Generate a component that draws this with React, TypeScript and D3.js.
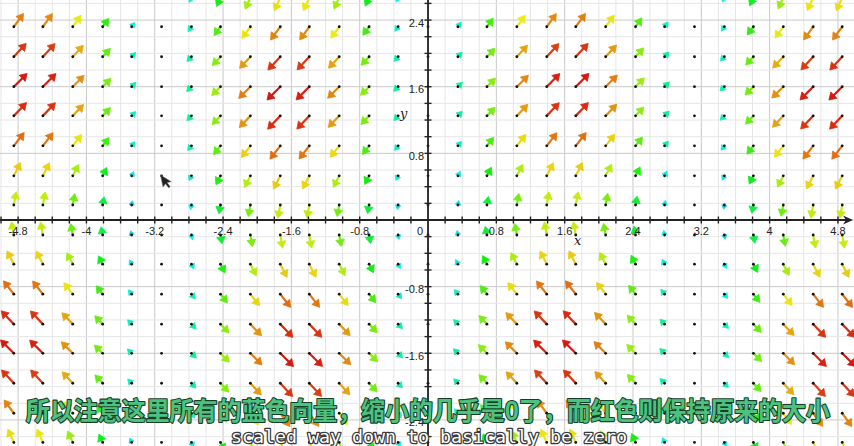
import * as d3 from "d3";

// sample columns (x) and the vertical component of the field at each column
const colX = [-4.85, -4.51, -4.16, -3.81, -3.47, -3.12, -2.77, -2.43, -2.08, -1.73, -1.39, -1.04, -0.69, -0.35, 0,
  0.35, 0.69, 1.04, 1.39, 1.73, 2.08, 2.43, 2.77, 3.12, 3.47, 3.81, 4.16, 4.51, 4.85];
const colA = [0.99, 0.98, 0.85, 0.62, 0.32, -0.02, -0.36, -0.66, -0.87, -0.99, -0.98, -0.86, -0.64, -0.34, 0,
  0.34, 0.64, 0.86, 0.98, 0.99, 0.87, 0.66, 0.36, 0.02, -0.32, -0.62, -0.85, -0.98, -0.99];

// sample rows (y) and the horizontal factor at each row
const rowY = [2.67, 2.32, 1.96, 1.6, 1.25, 0.89, 0.53, 0.18, -0.18, -0.53, -0.89, -1.25, -1.6, -1.96, -2.32, -2.67];
const rowG = [0.45, 0.73, 0.93, 1.0, 0.95, 0.78, 0.51, 0.18, -0.18, -0.51, -0.78, -0.95, -1.0, -0.93, -0.73, -0.45];

const xTickLabels = ["-4.8", "-4", "-3.2", "-2.4", "-1.6", "-0.8", "0.8", "1.6", "2.4", "3.2", "4", "4.8"];
const yTickLabels = ["2.4", "1.6", "0.8", "-0.8", "-1.6", "-2.4"];

const subtitleZh = "所以注意这里所有的蓝色向量，缩小的几乎是0了，而红色则保持原来的大小";
const subtitleEn = "scaled way down to basically be zero";

const W = 854;
const H = 446;
const MAX_MAG = Math.SQRT2;

export default function App() {
  const x = d3.scaleLinear().domain([-5.012, 4.988]).range([0, W]);
  const y = d3.scaleLinear().domain([2.641, -2.713]).range([0, H]);
  const x0 = x(0);
  const y0 = y(0);

  const gridX = d3.range(-25, 26).map(i => ({ v: i * 0.2, major: i % 4 === 0 }));
  const gridY = d3.range(-14, 15).map(i => ({ v: i * 0.2, major: i % 4 === 0 }));

  const arrows: any[] = [];
  colX.forEach((cx, i) => {
    rowY.forEach((ry, j) => {
      const a = colA[i];
      const g = rowG[j];
      const vx = a * g;
      const vy = -a;
      const m = Math.hypot(vx, vy);
      const t = Math.min(1, m / MAX_MAG);
      arrows.push({ px: x(cx), py: y(ry), vx, vy, m, t });
    });
  });

  const arrowEl = (d: any, k: number) => {
    const L = 19 * d.t;
    if (L < 1.2) return null;
    const ux = d.vx / d.m;
    const uy = d.vy / d.m;
    const tipX = d.px + ux * L;
    const tipY = d.py + uy * L;
    const h = Math.min(7, L * 0.62 + 1.5);
    const w = h * 0.62;
    const bx = tipX - ux * h;
    const by = tipY - uy * h;
    const hue = 243 * (1 - d.t);
    const col = d3.hsl(hue, 0.85, 0.45 + (Math.min(hue, 60) / 60) * 0.05).toString();
    const head = `M${tipX},${tipY}L${bx - uy * w},${by + ux * w}L${bx + uy * w},${by - ux * w}Z`;
    return (
      <g key={k}>
        <line x1={d.px} y1={d.py} x2={bx + ux * 1} y2={by + uy * 1} stroke={col} strokeWidth={L > 8 ? 2.2 : 1.8} />
        <path d={head} fill={col} stroke={col} strokeWidth={0.8} strokeLinejoin="round" />
      </g>
    );
  };

  const xTickVals = xTickLabels.map(Number);
  const yTickVals = yTickLabels.map(Number);

  return (
    <svg width={W} height={H} style={{ position: "absolute", left: 0, top: 0, background: "#fff" }}>
      <rect width={W} height={H} fill="#fff" />
      {/* grid */}
      <g>
        {gridX.map((d, i) => (
          <line key={"gx" + i} x1={x(d.v)} x2={x(d.v)} y1={0} y2={H}
            stroke={d.major ? "#c9c9c9" : "#e6e6e6"} strokeWidth={1} />
        ))}
        {gridY.map((d, i) => (
          <line key={"gy" + i} x1={0} x2={W} y1={y(d.v)} y2={y(d.v)}
            stroke={d.major ? "#c9c9c9" : "#e6e6e6"} strokeWidth={1} />
        ))}
      </g>

      {/* vectors */}
      <g>{arrows.map(arrowEl)}</g>
      <g>
        {arrows.map((d, k) => (
          <circle key={k} cx={d.px} cy={d.py} r={1.4} fill="#111" />
        ))}
      </g>

      {/* axes */}
      <g stroke="#222" strokeWidth={1.8}>
        <line x1={0} x2={W - 4} y1={y0} y2={y0} />
        <line x1={x0} x2={x0} y1={0} y2={H} />
        {gridX.filter(d => d.v !== 0).map((d, i) => (
          <line key={"tx" + i} x1={x(d.v)} x2={x(d.v)} y1={y0 - 3.5} y2={y0 + 3.5} strokeWidth={1.4} />
        ))}
        {gridY.filter(d => d.v !== 0).map((d, i) => (
          <line key={"ty" + i} x1={x0 - 3.5} x2={x0 + 3.5} y1={y(d.v)} y2={y(d.v)} strokeWidth={1.4} />
        ))}
      </g>
      <path d={`M${W - 1},${y0}L${W - 11},${y0 - 4.5}L${W - 8},${y0}L${W - 11},${y0 + 4.5}Z`} fill="#222" />

      {/* tick labels */}
      <g fontFamily="'Liberation Sans', Arial, sans-serif" fontSize={11} fill="#222">
        {xTickVals.map((v, i) => (
          <text key={"lx" + i} x={x(v)} y={y0 + 14.5} textAnchor="middle">{xTickLabels[i]}</text>
        ))}
        <text x={x0 - 5} y={y0 + 14.5} textAnchor="end">0</text>
        {yTickVals.map((v, i) => (
          <text key={"ly" + i} x={x0 - 4} y={y(v) + 6.5} textAnchor="end">{yTickLabels[i]}</text>
        ))}
      </g>
      <text x={574} y={245} fontFamily="'DejaVu Serif', 'Liberation Serif', serif" fontStyle="italic" fontSize={13} fill="#222">x</text>
      <text x={400} y={118} fontFamily="'DejaVu Serif', 'Liberation Serif', serif" fontStyle="italic" fontSize={13} fill="#222">y</text>

      {/* mouse pointer */}
      <path d="M0,0L0,13L3.2,10L5.6,15L7.4,14.2L5.1,9.2L9.5,9.2Z"
        transform="translate(160.5,175) rotate(-12) scale(0.95)" fill="#222" stroke="#666" strokeWidth={0.5} />

      {/* subtitles */}
      <text x={428} y={420} textAnchor="middle" fontFamily="'Noto Sans CJK SC', sans-serif" fontWeight={700}
        fontSize={25} textLength={804} lengthAdjust="spacingAndGlyphs"
        fill="#4cc27e" stroke="#173f28" strokeWidth={2.2} paintOrder="stroke" strokeLinejoin="round">
        {subtitleZh}
      </text>
      <text x={429} y={443} textAnchor="middle" fontFamily="'DejaVu Sans Mono', monospace" fontSize={18}
        textLength={396} lengthAdjust="spacingAndGlyphs"
        fill="#fff" stroke="#3a3a3a" strokeWidth={2.6} paintOrder="stroke" strokeLinejoin="round">
        {subtitleEn}
      </text>
    </svg>
  );
}
